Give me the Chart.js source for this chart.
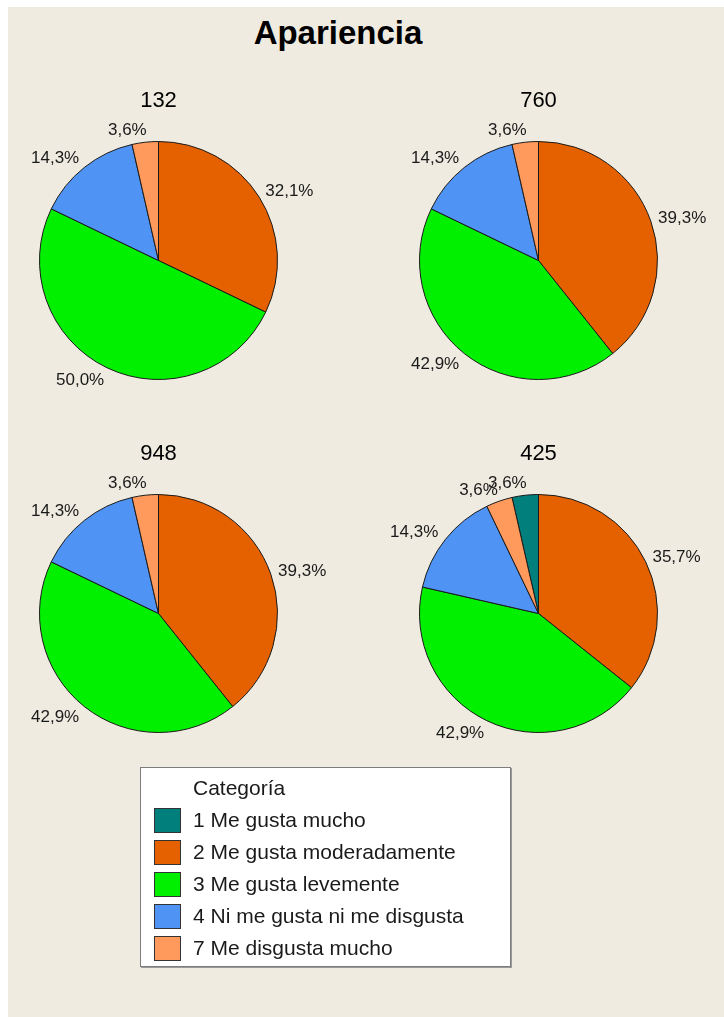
<!DOCTYPE html>
<html>
<head>
<meta charset="utf-8">
<script src="https://cdn.jsdelivr.net/npm/chart.js@4.4.1/dist/chart.umd.min.js"></script>
<style>
body { margin: 0; width: 724px; height: 1017px; overflow: hidden; position: relative; background: #fff; font-family: "Liberation Sans", Arial, sans-serif; }
#panel { position: absolute; left: 8px; top: 7px; right: 0; bottom: 0; background: #efebe0; }
#title { position: absolute; left: 238px; width: 200px; top: 16px; text-align: center; font-weight: bold; font-size: 33px; line-height: 33px; color: #000; }
.pie { position: absolute; width: 360px; height: 340px; }
#legend { position: absolute; left: 140px; top: 767px; width: 371px; height: 200px; background: #fff; border: 1px solid #7d7d7d; box-shadow: 1px 1px 0 #9a9a9a; padding-top: 4px; box-sizing: border-box; font-size: 21px; color: #1a1a1a; }
#legend .row { position: relative; height: 32px; line-height: 32px; padding-left: 52px; white-space: nowrap; }
#legend .sw { position: absolute; left: 13px; top: 4px; width: 25px; height: 23px; border: 1px solid #333; }
</style>
</head>
<body>
<div id="panel"></div>
<div id="title">Apariencia</div>
<div class="pie" style="left:8px;top:80px"><canvas id="pie132"></canvas></div>
<div class="pie" style="left:388px;top:80px"><canvas id="pie760"></canvas></div>
<div class="pie" style="left:8px;top:433px"><canvas id="pie948"></canvas></div>
<div class="pie" style="left:388px;top:433px"><canvas id="pie425"></canvas></div>
<div id="legend"></div>

<script>
// Data

const categories = ["1 Me gusta mucho", "2 Me gusta moderadamente", "3 Me gusta levemente", "4 Ni me gusta ni me disgusta", "7 Me disgusta mucho"];

const colors = ["#007f7d", "#e56100", "#00f000", "#4f94f4", "#ff9a5c"];

const samples = ["132", "760", "948", "425"];

// counts per category (28 judges)
const counts132 = [0, 9, 14, 4, 1];
const counts760 = [0, 11, 12, 4, 1];
const counts948 = [0, 11, 12, 4, 1];
const counts425 = [1, 10, 12, 4, 1];

const sampleCounts = [counts132, counts760, counts948, counts425];

// legend
let legend = document.getElementById("legend");
legend.innerHTML = '<div class="row">Categoría</div>' + categories.map((c, i) =>
    '<div class="row"><span class="sw" style="background:' + colors[i] + '"></span>' + c + '</div>').join("");

// percent labels outside the slices + sample name above
const pieLabels = {
    id: "pieLabels",
    afterDatasetsDraw(chart, args, opts) {
        const ctx = chart.ctx;
        const vals = chart.data.datasets[0].data;
        const total = vals.reduce((a, b) => a + b, 0);
        const arcs = chart.getDatasetMeta(0).data;
        let cx = 0, cy = 0, rad = 0;
        ctx.save();
        ctx.fillStyle = "#1a1a1a";
        ctx.font = '17px "Liberation Sans"';
        ctx.textBaseline = "middle";
        arcs.forEach((arc, i) => {
            const p = arc.getProps(["x", "y", "startAngle", "endAngle", "outerRadius"], true);
            cx = p.x; cy = p.y; rad = p.outerRadius;
            if (!vals[i]) return;
            const mid = (p.startAngle + p.endAngle) / 2;
            const r = p.outerRadius + 13;
            const right = Math.cos(mid) >= 0;
            const px = p.x + Math.cos(mid) * r + (right ? -5 : 3);
            const py = p.y + Math.sin(mid) * r + 1;
            const txt = (vals[i] / total * 100).toFixed(1).replace(".", ",") + "%";
            ctx.textAlign = right ? "left" : "right";
            ctx.fillText(txt, px, py);
        });
        ctx.fillStyle = "#000";
        ctx.font = '22px "Liberation Sans"';
        ctx.textAlign = "center";
        ctx.textBaseline = "alphabetic";
        ctx.fillText(opts.text, cx, cy - rad - 35);
        ctx.restore();
    }
};

samples.forEach((s, k) => {

    let data = sampleCounts[k];
    let total = data.reduce((a, b) => a + b, 0);

    new Chart(document.getElementById("pie" + s), {

        type: "pie",

        data: {
            labels: categories,
            datasets: [{
                data: data,
                backgroundColor: colors,
                borderColor: "#1a1a1a",
                borderWidth: 1
            }]
        },

        options: {
            responsive: true,
            maintainAspectRatio: false,
            animation: false,
            rotation: -360 * data[0] / total,
            layout: { padding: { left: 31, right: 90, top: 61, bottom: 40 } },
            plugins: {
                legend: { display: false },
                tooltip: { enabled: false },
                pieLabels: { text: s }
            }
        },

        plugins: [pieLabels]

    });

});
</script>
</body>
</html>
